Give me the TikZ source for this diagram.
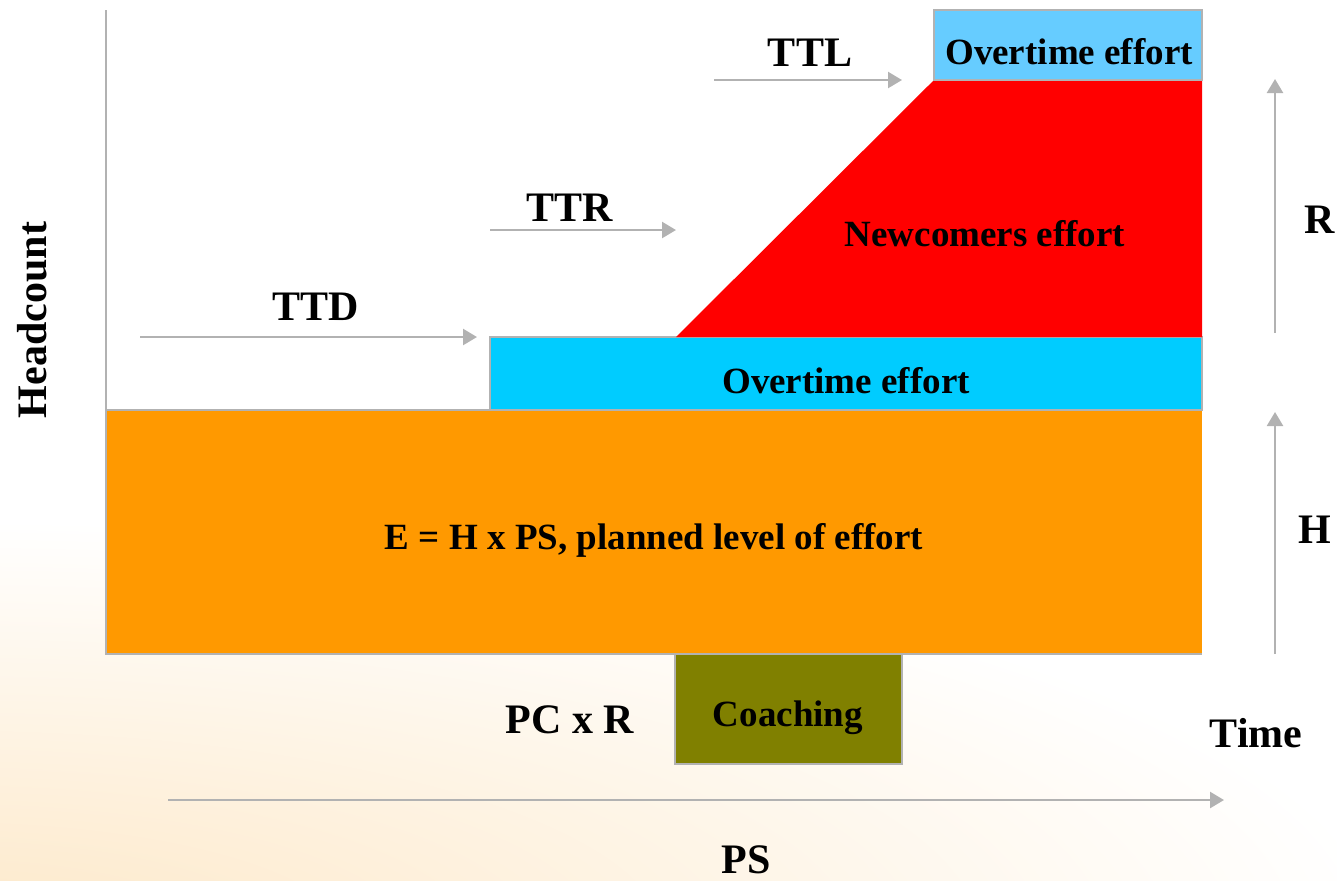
\documentclass[tikz,border=0pt]{standalone}
\usepackage{fontspec}
\setmainfont{Liberation Serif}
\usetikzlibrary{arrows.meta}
\definecolor{orangefill}{HTML}{FF9900}
\definecolor{cyanfill}{HTML}{00CCFF}
\definecolor{lightcyan}{HTML}{66CCFF}
\definecolor{olivefill}{HTML}{808000}
\definecolor{arrowgray}{HTML}{B2B2B2}
\definecolor{bgorange}{HTML}{FDE8C8}
\tikzset{
  block/.style={draw=arrowgray, line width=0.6pt},
  garrow/.style={draw=arrowgray, line width=1.2pt, -{Triangle[length=7pt,width=8pt]}},
  biglbl/.style={font=\fontsize{21}{25}\selectfont\bfseries, inner sep=0pt},
  boxlbl/.style={font=\fontsize{18.5}{22}\selectfont\bfseries, inner sep=0pt},
}
\begin{document}
\begin{tikzpicture}[x=0.5pt,y=-0.5pt]
\useasboundingbox (0,0) rectangle (1337,880);
\begin{scope}
\clip (0,0) rectangle (1337,880);
\shade[inner color=bgorange, outer color=white] (-60,940) ellipse [x radius=1450, y radius=420];
\end{scope}
% blocks
\fill[orangefill] (106,410) rectangle (1202,654);
\draw[arrowgray, line width=0.6pt] (106,654) -- (1202,654);
\draw[arrowgray, line width=0.6pt] (106,410) -- (490,410);
\path[block, fill=cyanfill] (490,337) rectangle (1202,410);
\fill[red] (676,337) -- (934,80) -- (1202,80) -- (1202,337) -- cycle;
\path[block, fill=lightcyan] (934,10) rectangle (1202,80);
\path[block, fill=olivefill] (675,654) rectangle (902,764);
% vertical axis
\draw[arrowgray, line width=1pt] (106,10) -- (106,655);
% coordinates for arrows
\coordinate (ttdS) at (140,337); \coordinate (ttdE) at (477,337);
\coordinate (ttrS) at (490,230); \coordinate (ttrE) at (676,230);
\coordinate (ttlS) at (714,80);  \coordinate (ttlE) at (902,80);
\coordinate (rS) at (1275,333);  \coordinate (rE) at (1275,79);
\coordinate (hS) at (1275,654);  \coordinate (hE) at (1275,412);
\coordinate (psS) at (168,800);  \coordinate (psE) at (1224,800);
\draw[garrow] (ttdS) -- (ttdE);
\draw[garrow] (ttrS) -- (ttrE);
\draw[garrow] (ttlS) -- (ttlE);
\draw[garrow] (rS) -- (rE);
\draw[garrow] (hS) -- (hE);
\draw[garrow] (psS) -- (psE);
% labels
\node[biglbl] (ttd) at (316,307) {TTD};
\node[biglbl] (ttr) at (570,208) {TTR};
\node[biglbl] (ttl) at (810,53) {TTL};
\node[boxlbl] (ot1) at (1069,52) {Overtime effort};
\node[boxlbl] (newc) at (985,234) {Newcomers effort};
\node[boxlbl] (ot2) at (846,381) {Overtime effort};
\node[boxlbl] (eff) at (654,540) {E = H x PS, planned level of effort};
\node[boxlbl] (coach) at (788,718) {Coaching};
\node[biglbl] (pcr) at (570,720) {PC x R};
\node[biglbl] (time) at (1256,733) {Time};
\node[biglbl] (ps) at (746,860) {PS};
\node[biglbl] (r) at (1320,220) {R};
\node[biglbl] (h) at (1315,530) {H};
\node[biglbl, rotate=90] (head) at (32,320) {Headcount};
\end{tikzpicture}
\end{document}
